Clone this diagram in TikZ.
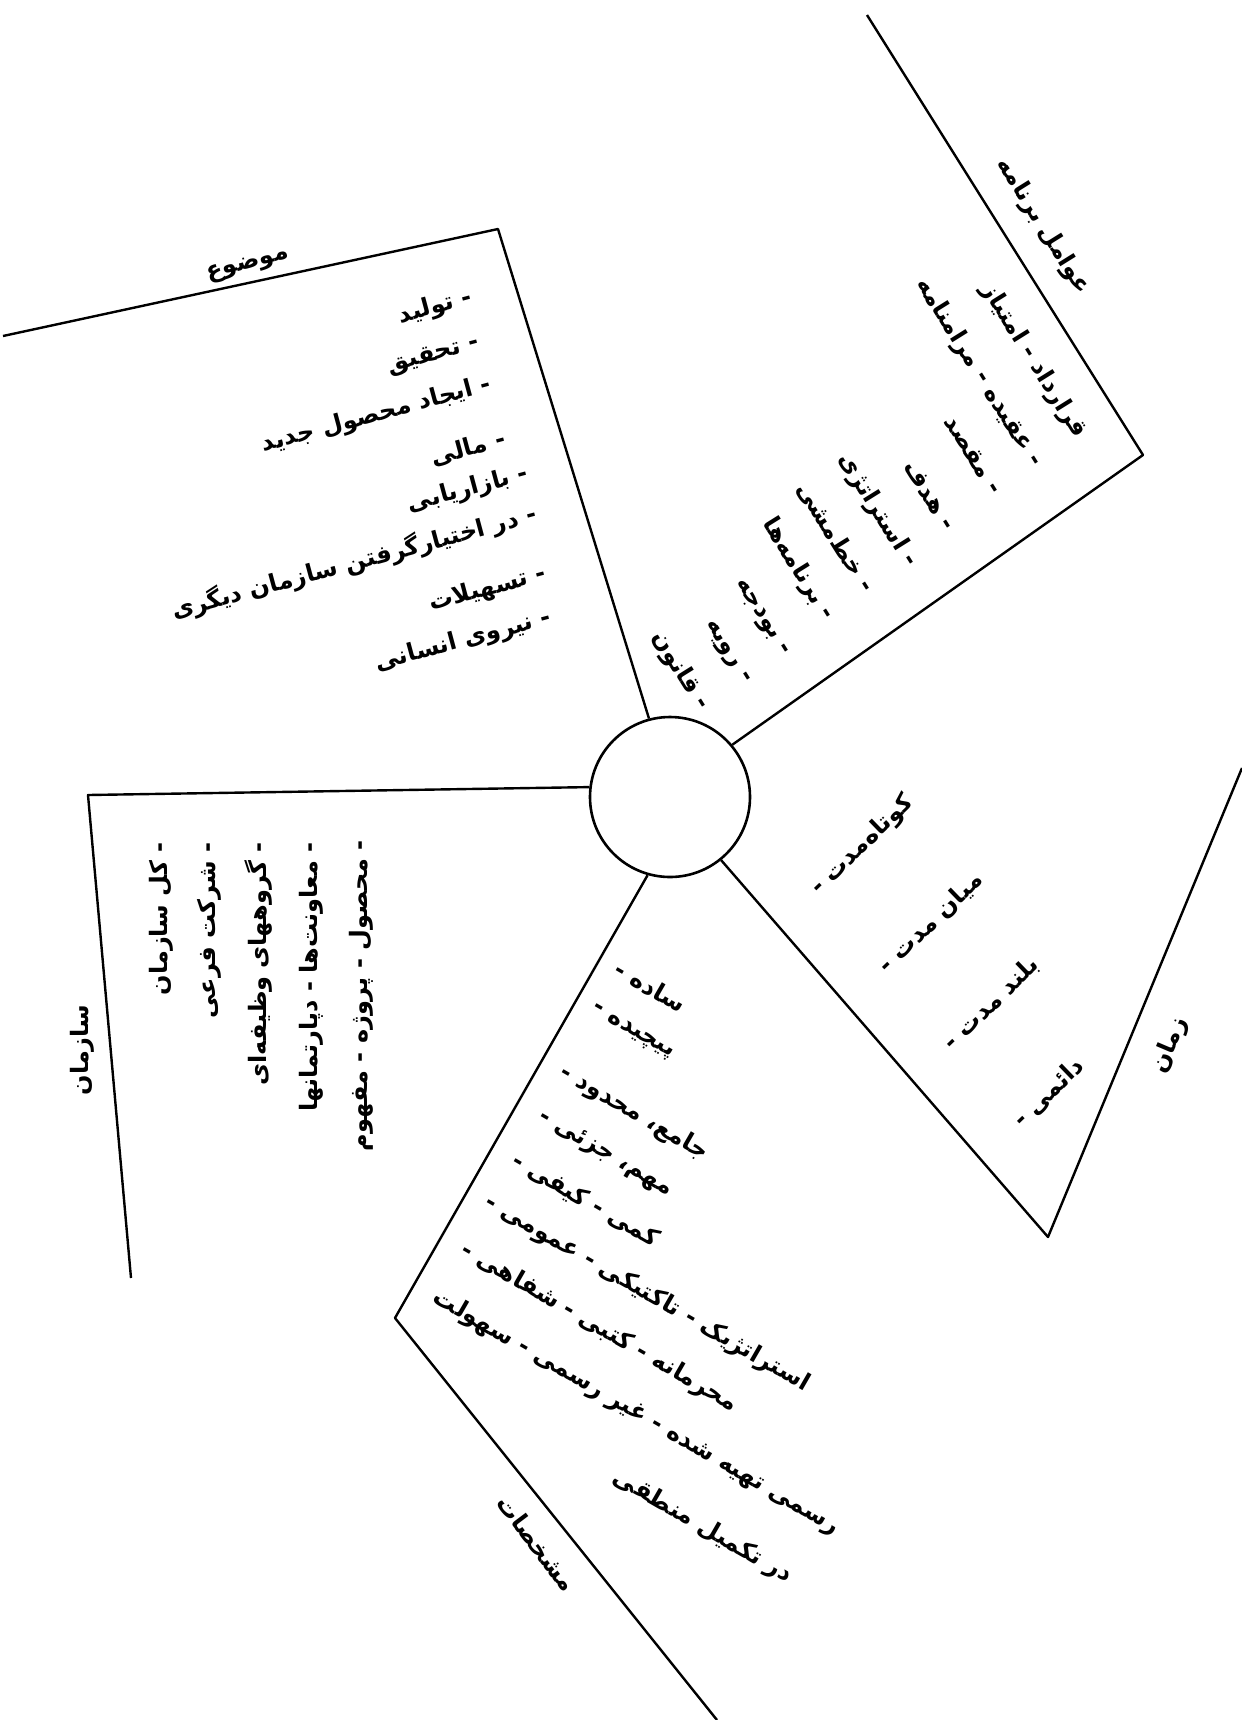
\documentclass[tikz,border=0pt]{standalone}
\usepackage{fontspec}
\newfontfamily\farsi[Script=Arabic]{DejaVu Sans}
\TeXXeTstate=1
\usetikzlibrary{positioning}
\tikzset{
  hub/.style  = {circle, draw, line width=1.3pt, minimum size=80pt, inner sep=0pt},
  rim/.style  = {line width=1.2pt, line join=round},
  item/.style = {font=\farsi\bfseries\fontsize{12}{14}\selectfont, inner sep=1pt},
  ttl/.style  = {item},
}

\begin{document}
\begin{tikzpicture}[x=0.5pt, y=-0.5pt]
  \useasboundingbox (0,0) rectangle (1242,1720);

  % centre and the five fans
  \node[hub] (hub) at (670,797) {};
  \coordinate (topicA) at (498,229);  \coordinate (topicB) at (3,336);
  \coordinate (progA)  at (1143,455); \coordinate (progB)  at (867,15);
  \coordinate (orgA)   at (88,795);   \coordinate (orgB)   at (131,1278);
  \coordinate (featA)  at (395,1318); \coordinate (featB)  at (717,1720);
  \coordinate (timeA)  at (1048,1237);\coordinate (timeB)  at (1242,768);
  \draw[rim] (hub.105) -- (topicA) -- (topicB);
  \draw[rim] (hub.40)  -- (progA)  -- (progB);
  \draw[rim] (hub.173) -- (orgA)   -- (orgB);
  \draw[rim] (hub.254) -- (featA)  -- (featB);
  \draw[rim] (hub.309) -- (timeA)  -- (timeB);

  % subject
  \node[ttl, rotate=15] (topic) at (248,265) {\beginR موضوع\endR};
  \node[item, rotate=15, anchor=east] (t1) at (474,297) {\beginR - تولید\endR};
  \node[item, rotate=15, anchor=east] (t2) at (481,343) {\beginR - تحقیق\endR};
  \node[item, rotate=15, anchor=east] (t3) at (493,384) {\beginR - ایجاد محصول جدید\endR};
  \node[item, rotate=15, anchor=east] (t4) at (507,438) {\beginR - مالی\endR};
  \node[item, rotate=15, anchor=east] (t5) at (530,473) {\beginR - بازاریابی\endR};
  \node[item, rotate=15, anchor=east] (t6) at (538,513) {\beginR - در اختیارگرفتن سازمان دیگری\endR};
  \node[item, rotate=15, anchor=east] (t7) at (548,573) {\beginR - تسهیلات\endR};
  \node[item, rotate=15, anchor=east] (t8) at (553,617) {\beginR - نیروی انسانی\endR};

  % programme factors
  \node[ttl, rotate=-58] (prog) at (1043,226) {\beginR عوامل برنامه\endR};
  \node[item, rotate=-58, anchor=east] (p1)  at (1082,438) {\beginR قرارداد - امتیاز\endR};
  \node[item, rotate=-58, anchor=east] (p2)  at (1038,467) {\beginR - عقیده - مرامنامه\endR};
  \node[item, rotate=-58, anchor=east] (p3)  at (998,494)  {\beginR - مقصد\endR};
  \node[item, rotate=-58, anchor=east] (p4)  at (951,530)  {\beginR - هدف\endR};
  \node[item, rotate=-58, anchor=east] (p5)  at (913,567)  {\beginR - استراتژی\endR};
  \node[item, rotate=-58, anchor=east] (p6)  at (870,592)  {\beginR - خط‌مشی\endR};
  \node[item, rotate=-58, anchor=east] (p7)  at (830,620)  {\beginR - برنامه‌ها\endR};
  \node[item, rotate=-58, anchor=east] (p8)  at (785,657)  {\beginR - بودجه\endR};
  \node[item, rotate=-58, anchor=east] (p9)  at (746,685)  {\beginR - رویه\endR};
  \node[item, rotate=-58, anchor=east] (p10) at (705,710)  {\beginR - قانون\endR};

  % organisation
  \node[ttl, rotate=90] (org) at (82,1050) {\beginR سازمان\endR};
  \node[item, rotate=90, anchor=east] (o1) at (161,840) {\beginR - کل سازمان\endR};
  \node[item, rotate=90, anchor=east] (o2) at (209,840) {\beginR - شرکت فرعی\endR};
  \node[item, rotate=90, anchor=east] (o3) at (259,840) {\beginR - گروههای وظیفه‌ای\endR};
  \node[item, rotate=90, anchor=east] (o4) at (311,840) {\beginR - معاونت‌ها - دپارتمانها\endR};
  \node[item, rotate=90, anchor=east] (o5) at (361,838) {\beginR - محصول - پروژه - مفهوم\endR};

  % features
  \node[ttl, rotate=-53] (feat) at (537,1543) {\beginR مشخصات\endR};
  \node[item, rotate=-30, anchor=west] (f1) at (615,966)  {\beginR ساده -\endR};
  \node[item, rotate=-30, anchor=west] (f2) at (590,1008) {\beginR پیچیده -\endR};
  \node[item, rotate=-30, anchor=west] (f3) at (560,1070) {\beginR جامع، محدود -\endR};
  \node[item, rotate=-30, anchor=west] (f4) at (538,1115) {\beginR مهم، جزئی -\endR};
  \node[item, rotate=-30, anchor=west] (f5) at (512,1158) {\beginR کمی - کیفی -\endR};
  \node[item, rotate=-30, anchor=west] (f6) at (485,1200) {\beginR استراتژیک - تاکتیکی - عمومی -\endR};
  \node[item, rotate=-30, anchor=west] (f7) at (461,1248) {\beginR محرمانه - کتبی - شفاهی -\endR};
  \node[item, rotate=-30, anchor=west] (f8) at (433,1295) {\beginR رسمی تهیه شده - غیر رسمی - سهولت\endR};
  \node[item, rotate=-30, anchor=west] (f9) at (613,1475) {\beginR در تکمیل منطقی\endR};

  % time
  \node[ttl, rotate=67] (time) at (1170,1045) {\beginR زمان\endR};
  \node[item, rotate=44, anchor=west] (d1) at (813,893)  {\beginR کوتاه‌مدت -\endR};
  \node[item, rotate=44, anchor=west] (d2) at (881,971)  {\beginR میان مدت -\endR};
  \node[item, rotate=44, anchor=west] (d3) at (946,1048) {\beginR بلند مدت -\endR};
  \node[item, rotate=44, anchor=west] (d4) at (1015,1125) {\beginR دائمی -\endR};
\end{tikzpicture}
\end{document}
